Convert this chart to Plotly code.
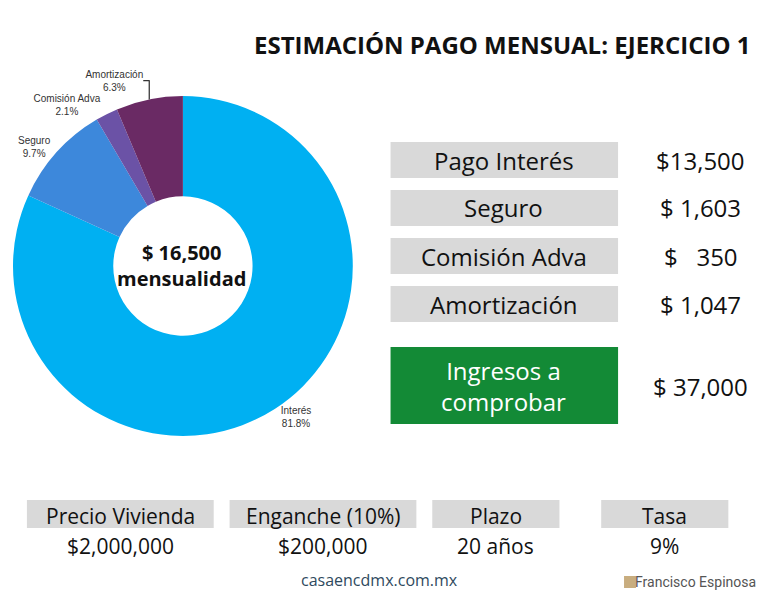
import plotly.graph_objects as go

W, H = 775, 600

conceptos = ["Interés", "Seguro", "Comisión Adva", "Amortización"]
montos = [13500, 1603, 350, 1047]
colores = ["#00b0f2", "#3d88db", "#6b52a6", "#6a2a64"]

tabla_labels = ["Pago Interés", "Seguro", "Comisión Adva", "Amortización"]
tabla_valores = ["$13,500", "$ 1,603", "$   350", "$ 1,047"]

datos_labels = ["Precio Vivienda", "Enganche (10%)", "Plazo", "Tasa"]
datos_valores = ["$2,000,000", "$200,000", "20 años", "9%"]

OFF = 8  # margen del body de la página


def px(x):
    return (x - OFF) / W


def py(y):
    return 1 - (y - OFF) / H


font = "Open Sans"
fig = go.Figure(go.Pie(
    labels=conceptos,
    values=montos,
    marker=dict(colors=colores),
    hole=0.41,
    sort=False,
    direction="clockwise",
    rotation=0,
    textposition="outside",
    texttemplate="%{label}<br>%{percent:.1%}",
    textfont=dict(family="Liberation Sans", size=10, color="#333"),
    domain=dict(x=[px(8), px(350)], y=[py(437), py(95)]),
    showlegend=False,
))

shapes = []
ann = []

ann.append(dict(x=px(752), y=py(44), xanchor="right",
                text="<b>ESTIMACIÓN PAGO MENSUAL: EJERCICIO 1</b>",
                font=dict(family=font, size=24, color="#111")))
ann.append(dict(x=px(178), y=py(265), text="<b>$ 16,500<br>mensualidad</b>",
                font=dict(family=font, size=20, color="#111")))

# tabla derecha
for i, (lab, val) in enumerate(zip(tabla_labels, tabla_valores)):
    y0 = 142 + 48 * i
    shapes.append(dict(type="rect", xref="paper", yref="paper",
                       x0=px(388), x1=px(617), y0=py(y0), y1=py(y0 + 36),
                       fillcolor="#d9d9d9", line_width=0))
    ann.append(dict(x=px(502), y=py(y0 + 18), text=lab,
                    font=dict(family=font, size=24, color="#111")))
    ann.append(dict(x=px(700), y=py(y0 + 18), text=val.replace(" ", "&nbsp;"),
                    font=dict(family=font, size=24, color="#111")))

shapes.append(dict(type="rect", xref="paper", yref="paper",
                   x0=px(388), x1=px(617), y0=py(347), y1=py(424),
                   fillcolor="#138a36", line_width=0))
ann.append(dict(x=px(502), y=py(386), text="Ingresos a<br>comprobar",
                font=dict(family=font, size=24, color="white")))
ann.append(dict(x=px(700), y=py(386), text="$ 37,000",
                font=dict(family=font, size=24, color="#111")))

# datos inferiores
cajas = [(22, 210), (226, 414), (430, 558), (600, 728)]
for (x0, x1), lab, val in zip(cajas, datos_labels, datos_valores):
    shapes.append(dict(type="rect", xref="paper", yref="paper",
                       x0=px(x0), x1=px(x1), y0=py(500), y1=py(528),
                       fillcolor="#d9d9d9", line_width=0))
    ann.append(dict(x=px((x0 + x1) / 2), y=py(516), text=lab,
                    font=dict(family=font, size=21, color="#111")))
    ann.append(dict(x=px((x0 + x1) / 2), y=py(546), text=val,
                    font=dict(family=font, size=21, color="#111")))

ann.append(dict(x=px(377), y=py(580), text="casaencdmx.com.mx",
                font=dict(family=font, size=16, color="#2f4a5e")))
ann.append(dict(x=px(695), y=py(582), text="Francisco Espinosa",
                font=dict(family="Roboto", size=14, color="#555")))
shapes.append(dict(type="rect", xref="paper", yref="paper",
                   x0=px(623), x1=px(635), y0=py(588), y1=py(576),
                   fillcolor="#c8ad7f", line_width=0))

for a in ann:
    a.setdefault("xanchor", "center")
    a.update(xref="paper", yref="paper", showarrow=False, yanchor="middle")

fig.update_layout(
    width=W, height=H,
    margin=dict(l=0, r=0, t=0, b=0),
    paper_bgcolor="white", plot_bgcolor="white",
    shapes=shapes, annotations=ann,
)

fig.write_html("out.html")
